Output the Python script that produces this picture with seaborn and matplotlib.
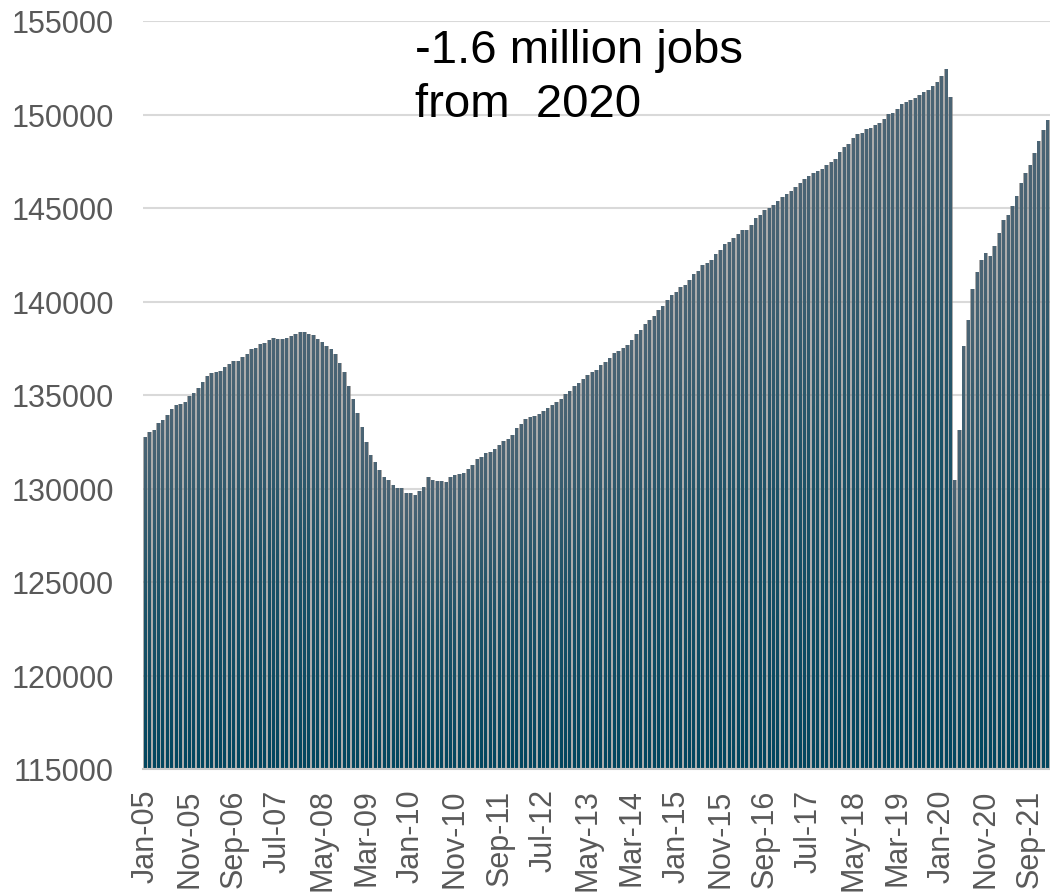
import numpy as np
import pandas as pd
import matplotlib
matplotlib.use("Agg")
import matplotlib.pyplot as plt
import seaborn as sns
from matplotlib.colors import LinearSegmentedColormap

# Total nonfarm payroll employment (thousands), monthly
jobs_2005 = [132730, 133000, 133130, 133500, 133660, 133930, 134250, 134460, 134520, 134610, 134960, 135100]
jobs_2006 = [135370, 135690, 136010, 136160, 136210, 136260, 136500, 136660, 136820, 136820, 137030, 137190]
jobs_2007 = [137460, 137510, 137710, 137780, 137940, 138030, 137990, 137990, 138050, 138150, 138260, 138350]
jobs_2008 = [138350, 138260, 138210, 137990, 137830, 137620, 137460, 137190, 136710, 136230, 135480, 134780]
jobs_2009 = [134040, 133290, 132480, 131790, 131410, 130990, 130610, 130450, 130180, 130020, 130020, 129760]
jobs_2010 = [129760, 129650, 129860, 130080, 130610, 130450, 130400, 130400, 130350, 130610, 130720, 130770]
jobs_2011 = [130830, 131040, 131250, 131580, 131680, 131900, 131970, 132110, 132320, 132540, 132650, 132860]
jobs_2012 = [133230, 133450, 133710, 133820, 133860, 133980, 134140, 134300, 134460, 134620, 134780, 135050]
jobs_2013 = [135210, 135480, 135640, 135850, 136070, 136230, 136340, 136600, 136760, 136980, 137240, 137350]
jobs_2014 = [137510, 137670, 137940, 138260, 138470, 138790, 139010, 139220, 139540, 139760, 140080, 140350]
jobs_2015 = [140510, 140770, 140880, 141150, 141470, 141630, 141950, 142060, 142220, 142540, 142750, 143070]
jobs_2016 = [143180, 143390, 143610, 143820, 143820, 144090, 144460, 144630, 144890, 145000, 145160, 145370]
jobs_2017 = [145590, 145750, 145910, 146120, 146340, 146550, 146710, 146870, 146980, 147090, 147300, 147460]
jobs_2018 = [147620, 147990, 148260, 148420, 148740, 148960, 149010, 149220, 149280, 149440, 149550, 149760]
jobs_2019 = [150030, 150080, 150290, 150560, 150670, 150780, 150880, 151040, 151200, 151310, 151520, 151740]
jobs_2020 = [152060, 152430, 150940, 130450, 133120, 137620, 139010, 140670, 141580, 142220, 142590, 142430]
jobs_2021 = [142970, 143660, 144360, 144620, 145110, 145640, 146340, 146870, 147300, 147940, 148580, 149170]
jobs_2022 = [149710]

jobs = (jobs_2005 + jobs_2006 + jobs_2007 + jobs_2008 + jobs_2009 + jobs_2010 +
        jobs_2011 + jobs_2012 + jobs_2013 + jobs_2014 + jobs_2015 + jobs_2016 +
        jobs_2017 + jobs_2018 + jobs_2019 + jobs_2020 + jobs_2021 + jobs_2022)

first_month = "2005-01"
months = pd.date_range(first_month, periods=len(jobs), freq="MS")
month_labels = [m.strftime("%b-%y") for m in months]
label_step = 10
y_ticks = list(range(115000, 155001, 5000))
annotation = "-1.6 million jobs\nfrom  2020"

df = pd.DataFrame({"month": month_labels, "jobs": jobs})

sns.set_style("white")
plt.rcParams["font.family"] = ["Liberation Sans", "DejaVu Sans"]

W, H = 1050, 895
fig = plt.figure(figsize=(W / 100, H / 100), dpi=100)
fig.patch.set_facecolor("white")
left, right, top, bottom = 143, 1050, 22, 770
ax = fig.add_axes([left / W, 1 - bottom / H, (right - left) / W, (bottom - top) / H])

# shadow layer behind the bars
sns.barplot(data=df, x="month", y="jobs", order=month_labels, color="#7a7a7a",
            width=1.0, errorbar=None, saturation=1, ax=ax, alpha=0.62, zorder=1,
            linewidth=0)
n_shadow = len(ax.patches)
# main bars
sns.barplot(data=df, x="month", y="jobs", order=month_labels, color="#2B5468",
            width=0.66, errorbar=None, saturation=1, ax=ax, zorder=2, linewidth=0)
main_patches = ax.patches[n_shadow:]

ymin, ymax = y_ticks[0], y_ticks[-1]
cmap = LinearSegmentedColormap.from_list("bar", ["#02465F", "#1E5368", "#4C6575"])
grad = np.linspace(0, 1, 128).reshape(-1, 1)
for p in main_patches:
    x0 = p.get_x()
    w = p.get_width()
    h = p.get_y() + p.get_height()
    im = ax.imshow(grad, extent=[x0 - 0.2, x0 + w + 0.2, ymin, h], origin="lower",
                   cmap=cmap, aspect="auto", interpolation="bilinear", zorder=2.5)
    p.set_facecolor("none")
    im.set_clip_path(p)

ax.set_xlim(-0.5, len(jobs) - 0.5)
ax.set_ylim(ymin, ymax)

ax.set_yticks(y_ticks)
ax.set_yticklabels([str(v) for v in y_ticks])
ax.yaxis.grid(True, color="#D9D9D9", linewidth=1.5, zorder=0)
ax.xaxis.grid(False)
ax.set_axisbelow(True)

major_pos = list(range(0, len(jobs), label_step))
ax.set_xticks(major_pos)
ax.set_xticklabels([month_labels[i] for i in major_pos], rotation=90)
ax.set_xticks([i - 0.5 for i in major_pos], minor=True)

ax.tick_params(axis="y", length=0, pad=21, labelsize=22, labelcolor="#595959")
ax.tick_params(axis="x", which="major", length=0, pad=14, labelsize=22, labelcolor="#595959")
ax.tick_params(axis="x", which="minor", length=6, width=1.3, color="#C8C8C8")

for s in ["left", "top", "right"]:
    ax.spines[s].set_visible(False)
ax.spines["bottom"].set_color("#C8C8C8")
ax.spines["bottom"].set_linewidth(1.5)
ax.spines["bottom"].set_zorder(3)

ax.set_xlabel("")
ax.set_ylabel("")

ax.text((415 - left) / (right - left), (bottom - 29) / (bottom - top), annotation,
        transform=ax.transAxes, ha="left", va="top", fontsize=34, color="black",
        linespacing=1.3, zorder=5)

fig.savefig("out.png", dpi=100, facecolor="white")
